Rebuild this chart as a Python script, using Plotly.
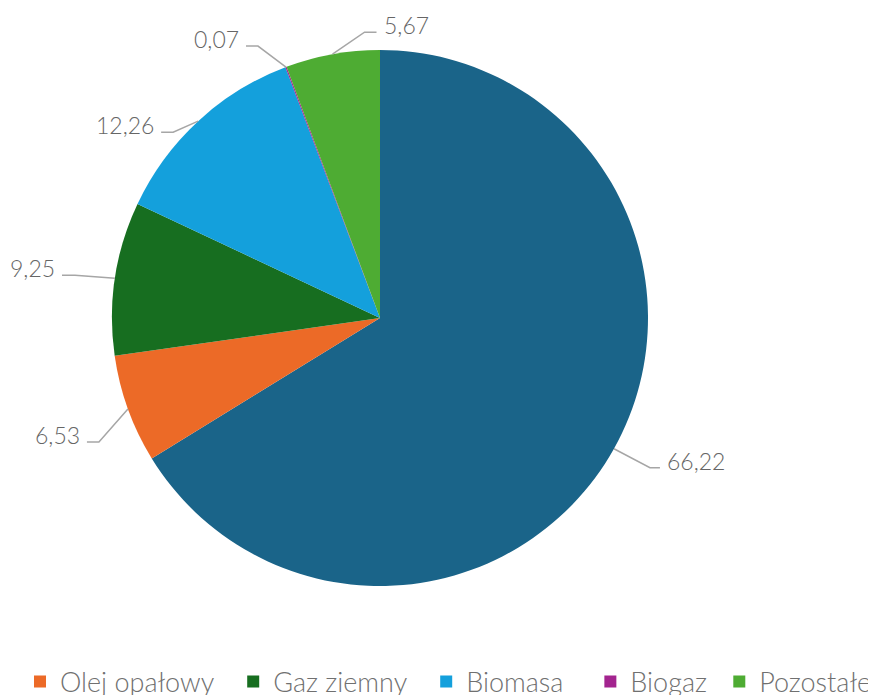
import math
import plotly.graph_objects as go

# ---- data ----
labels = ["Węgiel", "Olej opałowy", "Gaz ziemny", "Biomasa", "Biogaz", "Pozostałe"]
values = [66.22, 6.53, 9.25, 12.26, 0.07, 5.67]
legend_labels = ["Olej opałowy", "Gaz ziemny", "Biomasa", "Biogaz", "Pozostałe"]

# ---- styles ----
colors = ["#1a6489", "#ec6a27", "#176e20", "#14a0dc", "#a3248f", "#4eac33"]
# leader-line elbow offsets (px) relative to slice edge, and horizontal tail length (px)
elbow_dx = [36, -29, -40, -25, -28, 32]
elbow_dy = [19, 33, -3, 11, -21, -22]
tail = [10, -12, -13, -12, -12, 12]
legend_pad = [2, 2, 3, 1, 0]  # extra non-breaking spaces after legend names

W, H = 920, 695   # figure a bit wider than the window; the right part is off-screen
OFF = 8  # page body margin in which the figure sits
CX, CY, R = 380, 318, 268  # in page pixels
FONT = "Lato"
TXT = "#666666"
LEG_TXT = "#707070"
LINE = "#a6a6a6"

def X(px):
    return (px - OFF) / W

def Y(py):
    return 1 - (py - OFF) / H

fig = go.Figure()
fig.add_trace(go.Pie(
    labels=labels, values=values, sort=False, direction="clockwise", rotation=0,
    marker=dict(colors=colors, line=dict(width=0)),
    textinfo="none", hoverinfo="label+value", showlegend=False,
    domain=dict(x=[X(CX - R), X(CX + R)], y=[Y(CY + R), Y(CY - R)]),
))

total = sum(values)
cum = 0.0
shapes, annotations = [], []
for i, v in enumerate(values):
    theta = 2 * math.pi * (cum + v / 2) / total
    cum += v
    ex = CX + R * math.sin(theta)
    ey = CY - R * math.cos(theta)
    bx = ex + elbow_dx[i]
    by = ey + elbow_dy[i]
    tx = bx + tail[i]
    path = f"M {X(ex)},{Y(ey)} L {X(bx)},{Y(by)} L {X(tx)},{Y(by)}"
    shapes.append(dict(type="path", xref="paper", yref="paper", path=path,
                       line=dict(color=LINE, width=1.5)))
    right = tail[i] > 0
    annotations.append(dict(
        xref="paper", yref="paper", x=X(tx + (5 if right else -5)), y=Y(by - 7),
        xanchor="left" if right else "right", yanchor="middle",
        text=f"{v:.2f}".replace(".", ","), showarrow=False,
        font=dict(family=FONT, size=23, color=TXT, weight=300),
    ))

for k, lab in enumerate(legend_labels):
    c = colors[labels.index(lab)]
    fig.add_trace(go.Scatter(
        x=[None], y=[None], mode="markers", name=lab + "\u00a0" * legend_pad[k],
        marker=dict(symbol="square", size=16, color=c),
    ))

fig.update_layout(
    width=W, height=H, margin=dict(l=0, r=0, t=0, b=0, autoexpand=False),
    paper_bgcolor="white", plot_bgcolor="white",
    xaxis=dict(visible=False), yaxis=dict(visible=False),
    shapes=shapes, annotations=annotations,
    showlegend=True,
    legend=dict(orientation="h", x=X(20), xanchor="left", y=Y(682), yanchor="middle",
                font=dict(family=FONT, size=27, color=LEG_TXT, weight=300),
                itemsizing="constant", bgcolor="rgba(0,0,0,0)"),
)

fig.write_html("out.html")
